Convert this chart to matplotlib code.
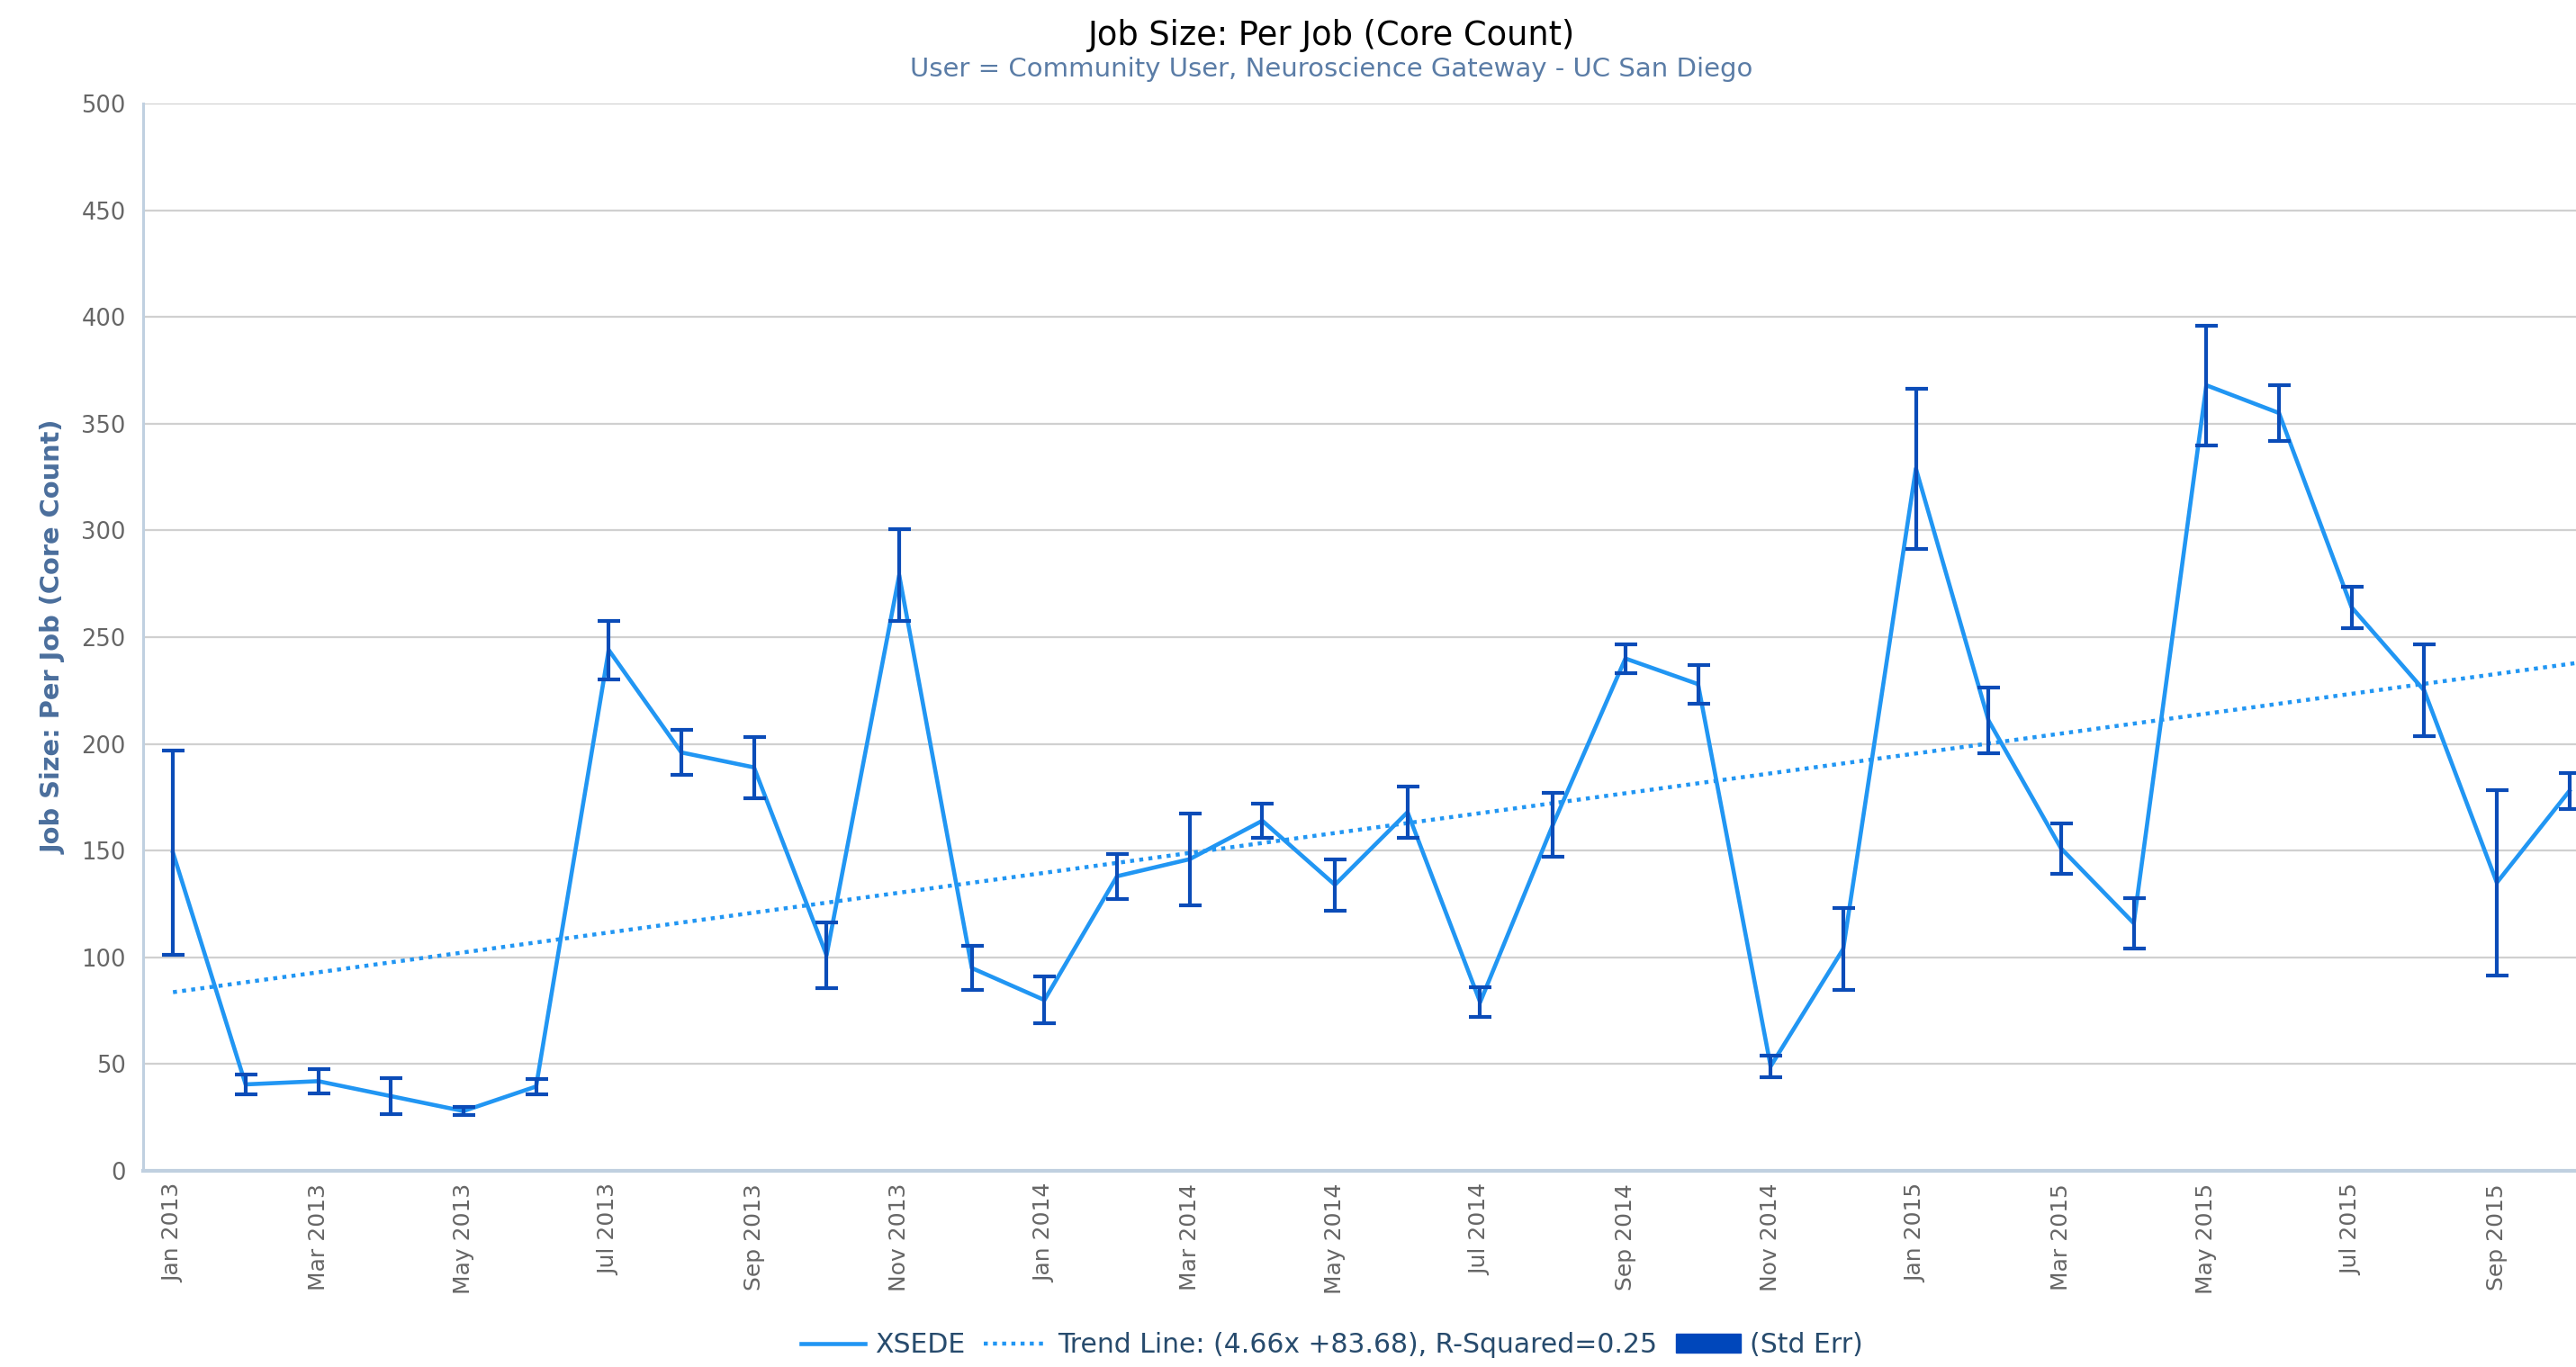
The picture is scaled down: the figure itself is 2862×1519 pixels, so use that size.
import numpy as np
import pandas as pd
import matplotlib
matplotlib.use('Agg')
import matplotlib.pyplot as plt
from matplotlib.lines import Line2D
from matplotlib.patches import Patch

# monthly job size, Jan 2013 .. Oct 2015
months = pd.date_range('2013-01-01', periods=34, freq='MS').strftime('%b %Y').tolist()
job_size = [149, 40.5, 42, 35, 28, 39.5, 244, 196, 189, 101, 279, 95,
            80, 138, 146, 164, 134, 168, 79, 162, 240, 228, 49, 104,
            329, 211, 151, 116, 368, 355, 264, 225, 135, 178]
std_err = [48, 4.6, 5.7, 8.5, 2, 3.5, 13.8, 10.7, 14.3, 15.3, 21.5, 10.3,
           11, 10.6, 21.5, 8, 12, 12, 7, 15, 6.7, 9, 5, 19.3,
           37.5, 15.5, 11.8, 11.8, 28, 13, 9.7, 21.5, 43.4, 8.4]
trend_slope = 4.66
trend_intercept = 83.68
r_squared = 0.25

line_col = '#2196f3'
err_col = '#0b4cb8'

fig = plt.figure(figsize=(28.62, 15.19), dpi=100)
ax = fig.add_axes([0.0556, 0.1435, 0.9444, 0.7808])

x = np.arange(len(months))
ax.plot(x, job_size, color=line_col, lw=3.3, zorder=3)
ax.errorbar(x, job_size, yerr=std_err, fmt='none', ecolor=err_col,
            elinewidth=3, capsize=9, capthick=3, zorder=4)

xt = np.arange(0, 40)
ax.plot(xt, trend_slope * xt + trend_intercept, color=line_col, lw=3.2,
        ls=(0, (1, 1.3)), zorder=2)

ax.set_xlim(-0.41, 33.09)
ax.set_ylim(0, 500)
ax.set_yticks(np.arange(0, 501, 50))
ax.set_xticks(x[::2])
ax.set_xticklabels(months[::2], rotation=90, fontsize=18, color='#666666')
ax.tick_params(axis='x', length=0, pad=10)
ax.tick_params(axis='y', length=0, pad=14, labelsize=18.5, labelcolor='#666666')
ax.grid(axis='y', color='#d0d0d0', lw=1.6)
ax.set_axisbelow(True)
for s in ['top', 'right']:
    ax.spines[s].set_visible(False)
ax.spines['left'].set_color('#c0d0e0')
ax.spines['left'].set_linewidth(2.2)
ax.spines['bottom'].set_color('#c0d0e0')
ax.spines['bottom'].set_linewidth(3)

ax.set_ylabel('Job Size: Per Job (Core Count)', fontsize=20.8, fontweight='bold',
              color='#4a6e9c', labelpad=12)

fig.text(0.517, 0.974, 'Job Size: Per Job (Core Count)', ha='center', va='center',
         fontsize=26.5, color='black')
fig.text(0.517, 0.949, 'User = Community User, Neuroscience Gateway - UC San Diego',
         ha='center', va='center', fontsize=21, color='#5a7ca6')

handles = [Line2D([], [], color=line_col, lw=3.3),
           Line2D([], [], color=line_col, lw=3.2, ls=(0, (1, 1.3))),
           Patch(facecolor='#0047bb', edgecolor='#0047bb')]
labels = ['XSEDE',
          'Trend Line: (%.2fx +%.2f), R-Squared=%.2f' % (trend_slope, trend_intercept, r_squared),
          '(Std Err)']
leg = fig.legend(handles, labels, loc='center', bbox_to_anchor=(0.517, 0.016), ncol=3,
                 frameon=False, fontsize=21.5, handlelength=2.4, handletextpad=0.35,
                 columnspacing=0.7)
for t in leg.get_texts():
    t.set_color('#274b6d')

fig.savefig('out.png', dpi=100)
